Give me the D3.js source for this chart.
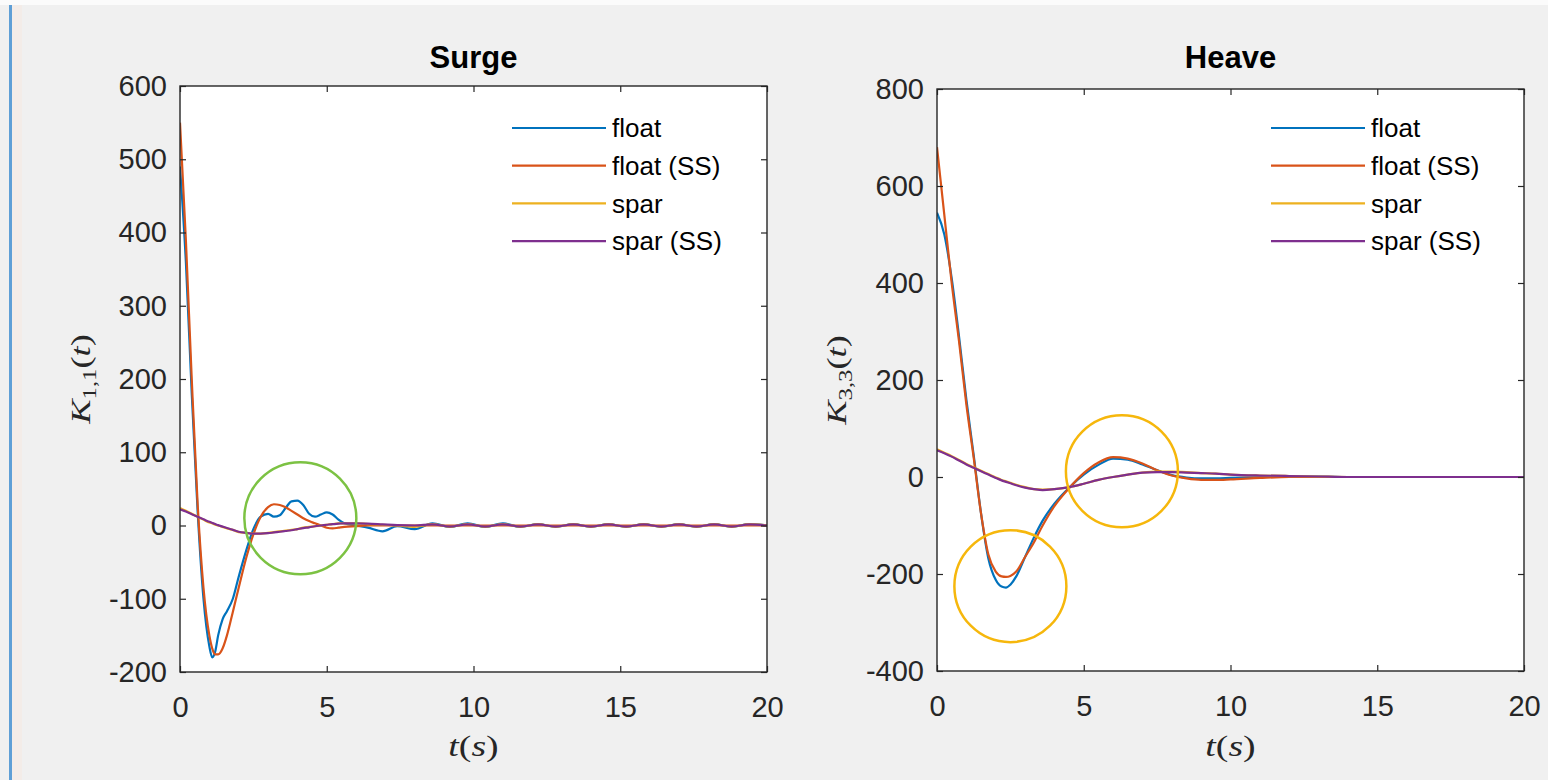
<!DOCTYPE html>
<html>
<head>
<meta charset="utf-8">
<script src="https://cdn.jsdelivr.net/npm/d3@7"></script>
<style>
  html, body { margin: 0; padding: 0; background: #f0f0f0; }
  svg { display: block; }
</style>
</head>
<body>
<div id="chart"></div>
<script>
// Noms et couleurs des séries (ordre MATLAB)
const seriesNames = ["float", "float (SS)", "spar", "spar (SS)"];
const seriesColors = ["#0072bd", "#d95319", "#edb120", "#7e2f8e"];

// Ticks
const xTicks = [0, 5, 10, 15, 20];
const surgeYTicks = [-200, -100, 0, 100, 200, 300, 400, 500, 600];
const heaveYTicks = [-400, -200, 0, 200, 400, 600, 800];

// Surge : K_{1,1}(t)
const surgeTime = [0, 0.2, 0.4, 0.6, 0.8, 1.0, 1.1, 1.2, 1.3, 1.45,
  1.6, 1.8, 2.0, 2.25, 2.5, 2.75, 3.0, 3.2, 3.4, 3.6,
  3.8, 4.0, 4.2, 4.4, 4.6, 4.8, 5.0, 5.2, 5.4, 5.6,
  6.0, 6.4, 6.9, 7.4, 8.0, 8.6, 9.2, 9.8, 10.4, 11.0,
  11.6, 12.2, 12.8, 13.4, 14.0, 14.6, 15.2, 15.8, 16.4, 17.0,
  17.6, 18.2, 18.8, 19.4, 20];
const surgeFloat = [490, 360, 180, 20, -100, -165, -180, -172, -150, -128,
  -117, -100, -70, -35, -5, 12, 16, 12, 14, 24,
  33, 34, 28, 16, 12, 15, 18, 15, 8, 3,
  0, -3, -8, -1, -5, 3, -2, 3, -2, 3,
  -2, 2, -2, 2, -2, 2, -2, 2, -2, 2,
  -2, 2, -2, 2, 0];
const surgeFloatSS = [550, 390, 200, 30, -85, -150, -168, -176, -176, -168,
  -150, -118, -85, -45, -12, 12, 25, 29, 28, 25,
  20, 15, 10, 6, 3, 0, -3, -4, -3, -2,
  -1, 0, 0, 0, 0, 0, 0, 0, 0, 0,
  0, 0, 0, 0, 0, 0, 0, 0, 0, 0,
  0, 0, 0, 0, 0];
const surgeSpar = [24, 20, 16, 12, 8, 4, 3, 1, 0, -2,
  -4, -6, -9, -10, -11, -11, -10, -9, -8, -7,
  -6, -5, -3, -2, -1, 0, 1, 2, 3, 3,
  3, 2, 1, 0, -2, 2, -2, 2, -2, 2,
  -2, 2, -2, 2, -2, 2, -2, 2, -2, 2,
  -2, 2, -2, 2, 0];
const surgeSparSS = [22, 19, 15.5, 12, 8.5, 5, 3.5, 2, 0.5, -1.5,
  -3.5, -6, -8.5, -10, -11, -11, -10.5, -9.5, -8.5, -7.5,
  -6.5, -5, -3.5, -2.5, -1, 0, 1, 2, 2.5, 3,
  3, 2.5, 1.5, 0.5, 0, 1.5, -1.5, 1.5, -1.5, 1.5,
  -1.5, 1.5, -1.5, 1.5, -1.5, 1.5, -1.5, 1.5, -1.5, 1.5,
  -1.5, 1.5, -1.5, 1.5, 0];

// Heave : K_{3,3}(t)
const heaveTime = [0, 0.25, 0.5, 0.75, 1.0, 1.25, 1.5, 1.75, 2.0, 2.2,
  2.35, 2.5, 2.7, 3.0, 3.3, 3.6, 4.0, 4.5, 5.0, 5.5,
  6.0, 6.5, 7.0, 7.5, 8.0, 8.5, 9.0, 9.5, 10, 11,
  12, 13, 14, 15, 16, 17, 18, 19, 20];
const heaveFloat = [545, 500, 410, 290, 160, 45, -75, -168, -212, -226,
  -228, -222, -205, -165, -125, -90, -55, -22, 5, 25,
  38, 36, 26, 14, 4, -1, -3, -3, -2, 0,
  1, 1, 0, 0, 0, 0, 0, 0, 0];
const heaveFloatSS = [680, 540, 400, 280, 150, 40, -75, -160, -195, -205,
  -206, -204, -195, -165, -135, -100, -60, -23, 8, 30,
  41, 38, 28, 14, 3, -3, -6, -6, -5, -2,
  0, 0, 0, 0, 0, 0, 0, 0, 0];
const heaveSpar = [57, 50, 43, 35, 27, 20, 13, 6, -1, -6,
  -9, -12, -16, -21, -25, -26, -25, -21, -14, -6,
  0, 5, 9, 11, 11, 10, 8, 7, 5, 3,
  2, 1, 0, 0, 0, 0, 0, 0, 0];
const heaveSparSS = [55, 49, 42, 34, 26, 19, 12, 5, -2, -7,
  -10, -13, -17, -22, -25, -27, -25, -21, -14, -6,
  0, 5, 9, 10, 10, 9, 8, 7, 5, 3,
  2, 1, 0, 0, 0, 0, 0, 0, 0];

// Cercles d'annotation [t, valeur]
const surgeMarks = [[4.1, 10]];
const heaveMarks = [[2.5, -225], [6.3, 12]];

const width = 1548, height = 780;
const sansFont = "'Liberation Sans', Arial, Helvetica, sans-serif";
const serifFont = "'Liberation Serif', 'Times New Roman', serif";
const inkColor = "#262626";

let svg = d3.select("#chart").append("svg")
    .attr("width", width)
    .attr("height", height);

// Fond et bord bleu de la fenêtre
svg.append("rect").attr("width", width).attr("height", height).attr("fill", "#f0f0f0");
svg.append("rect").attr("width", width).attr("height", 5).attr("fill", "#fbfbfb");
svg.append("rect").attr("x", 12).attr("y", 5).attr("width", 10).attr("height", height - 5).attr("fill", "#f3ece8");
svg.append("rect").attr("x", 9).attr("y", 5).attr("width", 3).attr("height", height - 5).attr("fill", "#5f9fd6");

function drawPanel(cfg) {
    let x = d3.scaleLinear().domain([0, 20]).range([cfg.left, cfg.right]);
    let y = d3.scaleLinear().domain(cfg.yDomain).range([cfg.bottom, cfg.top]);
    let g = svg.append("g");

    // Zone de tracé
    g.append("rect")
        .attr("x", cfg.left).attr("y", cfg.top)
        .attr("width", cfg.right - cfg.left).attr("height", cfg.bottom - cfg.top)
        .attr("fill", "#ffffff");

    let clipId = "clip-" + cfg.id;
    svg.append("clipPath").attr("id", clipId)
        .append("rect")
        .attr("x", cfg.left).attr("y", cfg.top)
        .attr("width", cfg.right - cfg.left).attr("height", cfg.bottom - cfg.top);

    // Courbes
    let line = d3.line()
        .x(d => x(d[0]))
        .y(d => y(d[1]))
        .curve(d3.curveMonotoneX);

    let lines = g.append("g").attr("clip-path", "url(#" + clipId + ")");
    cfg.series.forEach(function (values, i) {
        let pts = cfg.time.map((t, k) => [t, values[k]]);
        lines.append("path")
            .attr("d", line(pts))
            .attr("fill", "none")
            .attr("stroke", seriesColors[i])
            .attr("stroke-width", 2.2)
            .attr("stroke-linejoin", "round");
    });

    // Axes (ticks vers l'intérieur, sur les quatre côtés)
    let axisStyle = function (sel) {
        sel.select(".domain").remove();
        sel.selectAll("line").attr("stroke", inkColor).attr("stroke-width", 1.2);
        sel.selectAll("text")
            .attr("fill", inkColor)
            .style("font-family", sansFont)
            .style("font-size", "29px");
    };
    let fmt = d => String(d);
    g.append("g").attr("transform", "translate(0," + cfg.bottom + ")")
        .call(d3.axisBottom(x).tickValues(xTicks).tickSize(-6).tickPadding(24).tickFormat(fmt))
        .call(axisStyle);
    g.append("g").attr("transform", "translate(0," + cfg.top + ")")
        .call(d3.axisTop(x).tickValues(xTicks).tickSize(-6).tickFormat(""))
        .call(axisStyle);
    g.append("g").attr("transform", "translate(" + cfg.left + ",0)")
        .call(d3.axisLeft(y).tickValues(cfg.yTicks).tickSize(-6).tickPadding(13).tickFormat(fmt))
        .call(axisStyle);
    g.append("g").attr("transform", "translate(" + cfg.right + ",0)")
        .call(d3.axisRight(y).tickValues(cfg.yTicks).tickSize(-6).tickFormat(""))
        .call(axisStyle);

    // Cadre
    g.append("rect")
        .attr("x", cfg.left).attr("y", cfg.top)
        .attr("width", cfg.right - cfg.left).attr("height", cfg.bottom - cfg.top)
        .attr("fill", "none")
        .attr("stroke", inkColor)
        .attr("stroke-width", 1.4);

    // Titre
    g.append("text")
        .attr("x", (cfg.left + cfg.right) / 2)
        .attr("y", 68)
        .attr("text-anchor", "middle")
        .style("font-family", sansFont)
        .style("font-weight", "bold")
        .style("font-size", "31px")
        .attr("fill", "#000")
        .text(cfg.title);

    // Label de l'axe x : t(s) (rendu LaTeX, un peu étiré)
    let xl = g.append("text")
        .attr("transform", "translate(" + ((cfg.left + cfg.right) / 2) + ",756) scale(1.3,1)")
        .attr("text-anchor", "middle")
        .style("font-family", serifFont)
        .style("font-size", "29px")
        .attr("fill", inkColor);
    xl.append("tspan").style("font-style", "italic").text("t");
    xl.append("tspan").text("(");
    xl.append("tspan").style("font-style", "italic").text("s");
    xl.append("tspan").text(")");

    // Label de l'axe y : K_{i,i}(t)
    let yl = g.append("text")
        .attr("transform", "translate(" + cfg.yLabelX + "," + ((cfg.top + cfg.bottom) / 2) + ") rotate(-90) scale(1.3,1)")
        .attr("text-anchor", "middle")
        .style("font-family", serifFont)
        .style("font-size", "28px")
        .attr("fill", inkColor);
    yl.append("tspan").style("font-style", "italic").text("K");
    yl.append("tspan").attr("dy", 6).style("font-size", "19px").text(cfg.sub);
    yl.append("tspan").attr("dy", -6).text("(");
    yl.append("tspan").style("font-style", "italic").text("t");
    yl.append("tspan").text(")");

    // Légende
    let lg = g.append("g");
    seriesNames.forEach(function (name, i) {
        let ly = cfg.legendY + i * 37.7;
        lg.append("line")
            .attr("x1", cfg.legendX).attr("x2", cfg.legendX + 94)
            .attr("y1", ly).attr("y2", ly)
            .attr("stroke", seriesColors[i])
            .attr("stroke-width", 2.2);
        lg.append("text")
            .attr("x", cfg.legendX + 100)
            .attr("y", ly)
            .attr("dy", "0.35em")
            .style("font-family", sansFont)
            .style("font-size", "26px")
            .attr("fill", "#000")
            .text(name);
    });

    // Cercles d'annotation
    cfg.marks.forEach(function (m) {
        g.append("circle")
            .attr("cx", x(m[0]))
            .attr("cy", y(m[1]))
            .attr("r", 56)
            .attr("fill", "none")
            .attr("stroke", cfg.markColor)
            .attr("stroke-width", 2.5);
    });
}

drawPanel({
    id: "surge", title: "Surge", sub: "1,1",
    left: 180, right: 767, top: 86, bottom: 672,
    yDomain: [-200, 600], yTicks: surgeYTicks,
    time: surgeTime,
    series: [surgeFloat, surgeFloatSS, surgeSpar, surgeSparSS],
    legendX: 512, legendY: 128,
    yLabelX: 90,
    marks: surgeMarks, markColor: "#7cc243"
});

drawPanel({
    id: "heave", title: "Heave", sub: "3,3",
    left: 937, right: 1524, top: 89, bottom: 671,
    yDomain: [-400, 800], yTicks: heaveYTicks,
    time: heaveTime,
    series: [heaveFloat, heaveFloatSS, heaveSpar, heaveSparSS],
    legendX: 1271, legendY: 128,
    yLabelX: 846,
    marks: heaveMarks, markColor: "#f6b70c"
});
</script>
</body>
</html>
